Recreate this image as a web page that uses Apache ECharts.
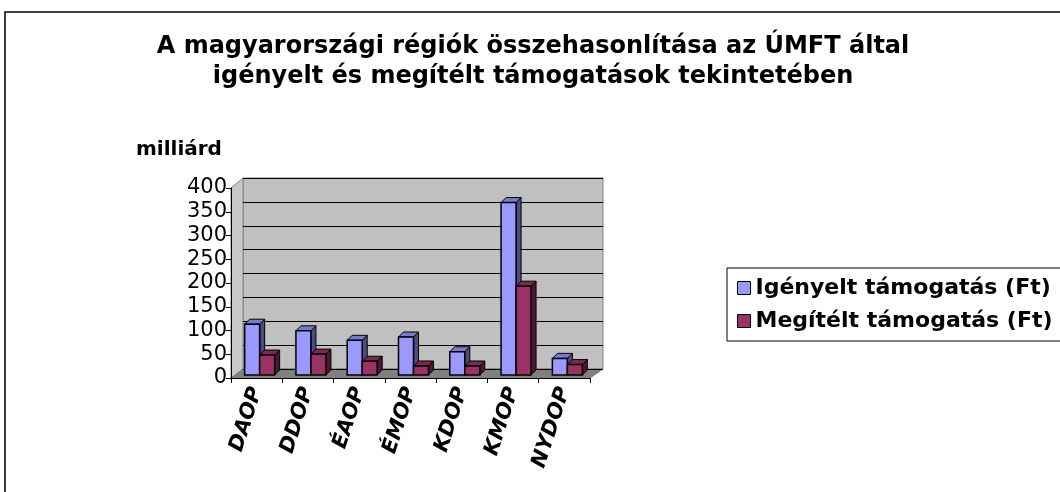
<!DOCTYPE html>
<html><head><meta charset="utf-8">
<script src="https://cdn.jsdelivr.net/npm/echarts@6/dist/echarts.min.js"></script>
<style>html,body{margin:0;padding:0;background:#fff}#c{width:1060px;height:492px}</style>
</head><body><div id="c"></div>
<script>
const categories = ['DAOP','DDOP','ÉAOP','ÉMOP','KDOP','KMOP','NYDOP'];
const requested = [107, 93, 73, 80, 49, 363, 35];
const granted = [42, 44, 29, 19, 19, 187, 22];
const seriesNames = ['Igényelt támogatás (Ft)', 'Megítélt támogatás (Ft)'];
const yTicks = [0, 50, 100, 150, 200, 250, 300, 350, 400];

const FF = '"DejaVu Sans", Verdana, sans-serif';
const BAR_W = 15, DEPTH_X = 5, DEPTH_Y = 5;

function bar3d(offset, front, side, top) {
  return function (params, api) {
    const idx = api.value(0), v = api.value(1);
    const c = api.coord([idx, v]);
    const b = api.coord([idx, 0]);
    const x0 = c[0] + offset, x1 = x0 + BAR_W;
    const yT = c[1] - 3, yB = b[1] - 3;
    return {
      type: 'group',
      children: [
        {type: 'polygon', shape: {points: [[x1, yB], [x1 + DEPTH_X, yB - DEPTH_Y], [x1 + DEPTH_X, yT - DEPTH_Y], [x1, yT]]},
          style: {fill: side, stroke: '#000', lineWidth: 1}},
        {type: 'polygon', shape: {points: [[x0, yT], [x0 + DEPTH_X, yT - DEPTH_Y], [x1 + DEPTH_X, yT - DEPTH_Y], [x1, yT]]},
          style: {fill: top, stroke: '#000', lineWidth: 1}},
        {type: 'rect', shape: {x: x0, y: yT, width: BAR_W, height: yB - yT},
          style: {fill: front, stroke: '#000', lineWidth: 1.5}}
      ]
    };
  };
}

const chart = echarts.init(document.getElementById('c'), null, {renderer: 'canvas'});
chart.setOption({
  animation: false,
  backgroundColor: '#fff',
  textStyle: {fontFamily: FF},
  title: {
    text: 'A magyarországi régiók összehasonlítása az ÚMFT által\nigényelt és megítélt támogatások tekintetében',
    left: 528, top: 27, textAlign: 'center',
    textStyle: {fontFamily: FF, fontSize: 24, fontWeight: 'bold', color: '#000', lineHeight: 30}
  },
  graphic: [
    {type: 'rect', shape: {x: 5, y: 12, width: 1070, height: 500}, style: {fill: 'none', stroke: '#000', lineWidth: 1.5}, silent: true, z: -10},
    {type: 'text', left: 136, top: 140, style: {text: 'milliárd', font: 'bold 20px ' + FF, fill: '#000'}},
    // left wall
    {type: 'polygon', shape: {points: [[231, 188], [243, 178], [243, 369], [231, 378]]}, style: {fill: '#c8c8c8', stroke: '#808080', lineWidth: 1}, z: -5},
    // floor
    {type: 'polygon', shape: {points: [[231, 378], [243, 369], [603, 369], [590, 378]]}, style: {fill: '#808080', stroke: '#808080', lineWidth: 1}, z: -5}
  ],
  legend: {
    left: 727, top: 268,
    orient: 'vertical',
    itemWidth: 13, itemHeight: 13, itemGap: 11,
    padding: [9, 40, 9, 10],
    borderColor: '#000', borderWidth: 1,
    icon: 'rect',
    textStyle: {fontFamily: FF, fontSize: 22, fontWeight: 'bold', color: '#000'},
    data: [
      {name: seriesNames[0], itemStyle: {color: '#9999ff', borderColor: '#000', borderWidth: 1}},
      {name: seriesNames[1], itemStyle: {color: '#993366', borderColor: '#000', borderWidth: 1}}
    ]
  },
  grid: [
    {left: 243, right: 457, top: 178, bottom: 123, show: true, backgroundColor: '#c0c0c0', borderColor: '#808080', borderWidth: 1, z: -6},
    {left: 231, right: 470, top: 188, bottom: 114}
  ],
  xAxis: [
    {gridIndex: 0, type: 'category', data: categories, show: false},
    {gridIndex: 1, type: 'category', data: categories,
      axisLine: {lineStyle: {color: '#000'}},
      axisTick: {show: true, lineStyle: {color: '#000'}, length: 5},
      axisLabel: {rotate: 72, fontFamily: FF, fontSize: 21, fontWeight: 'bold', fontStyle: 'italic', color: '#000', margin: 10}}
  ],
  yAxis: [
    {gridIndex: 0, type: 'value', min: 0, max: 400, interval: 50,
      axisLine: {show: false}, axisTick: {show: false}, axisLabel: {show: false},
      splitLine: {lineStyle: {color: '#000', width: 1}}},
    {gridIndex: 1, type: 'value', min: 0, max: 400, interval: 50,
      axisLine: {show: true, lineStyle: {color: '#000'}},
      axisTick: {show: true, lineStyle: {color: '#000'}, length: 5},
      axisLabel: {fontFamily: FF, fontSize: 21, color: '#000', margin: 4,
        formatter: v => yTicks.includes(v) ? String(v) : ''},
      splitLine: {show: false}}
  ],
  series: [
    {name: seriesNames[0], type: 'custom', xAxisIndex: 1, yAxisIndex: 1,
      data: requested.map((v, i) => [i, v]), renderItem: bar3d(-12, '#9999ff', '#4c4c80', '#7a7acc'),
      itemStyle: {color: '#9999ff'}},
    {name: seriesNames[1], type: 'custom', xAxisIndex: 1, yAxisIndex: 1,
      data: granted.map((v, i) => [i, v]), renderItem: bar3d(3, '#993366', '#4c1933', '#7a2952'),
      itemStyle: {color: '#993366'}}
  ]
});
</script></body></html>
